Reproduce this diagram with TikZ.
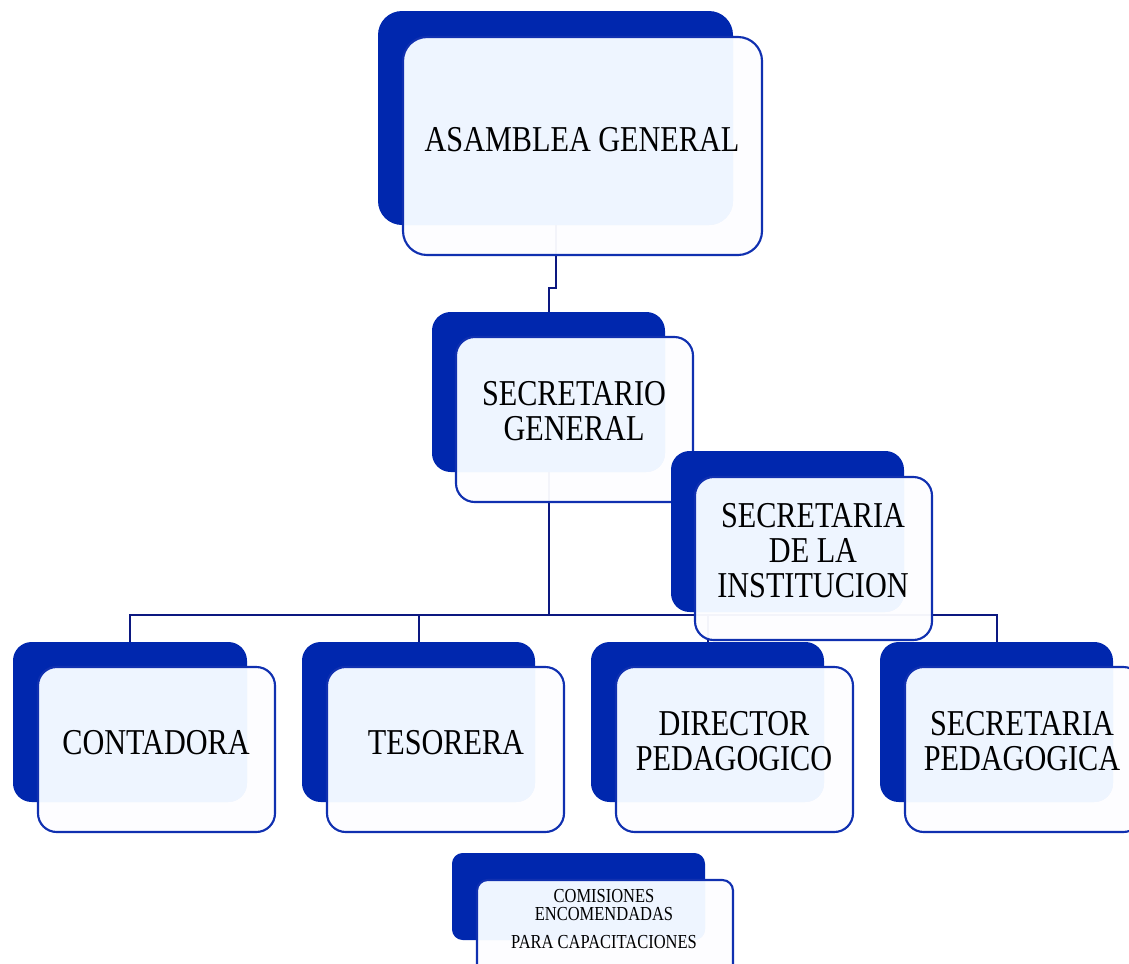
\documentclass[tikz,border=0pt]{standalone}
\usepackage{fontspec}
\setmainfont{Liberation Serif}
\newfontfamily\tallserif[FakeStretch=0.83]{Liberation Serif}
\usetikzlibrary{fit}
\definecolor{backblue}{RGB}{0,39,174}
\definecolor{edgeblue}{RGB}{16,48,176}
\definecolor{linenavy}{RGB}{12,24,128}
\definecolor{frontwhite}{RGB}{253,253,255}
\definecolor{overlapblue}{RGB}{238,245,255}
\tikzset{
  backbox/.style={fill=backblue, draw=none, inner sep=0pt, outer sep=0pt, rounded corners=#1},
  backbox/.default=14pt,
  frontfill/.style={fill=frontwhite, fill opacity=0.96, draw=none, inner sep=0pt, outer sep=0pt, rounded corners=#1},
  frontfill/.default=14pt,
  frontedge/.style={draw=edgeblue, line width=1.6pt},
  conn/.style={draw=linenavy, line width=1.5pt},
  lbl/.style={font=\tallserif\fontsize{27.3}{26.25}\selectfont, align=center, inner sep=0pt, text=black},
  smalllbl/.style={font=\tallserif\fontsize{14.9}{13.5}\selectfont, align=center, inner sep=0pt, text=black}
}
\def\rad{14pt}
% #1 name, #2-#5 back box corners, #6-#9 front box corners
\newcommand{\orgbox}[9]{%
  \node[backbox=\rad, fit={(#2,#3) (#4,#5)}] (#1B) {};
  \node[frontfill=\rad, fit={(#6,#7) (#8,#9)}] (#1F) {};
  \begin{scope}
    \clip[rounded corners=\rad] (#1B.south west) rectangle (#1B.north east);
    \fill[overlapblue, rounded corners=\rad] (#1F.south west) rectangle (#1F.north east);
  \end{scope}
  \draw[frontedge, rounded corners=\rad] (#1F.south west) rectangle (#1F.north east);
}
\begin{document}
\begin{tikzpicture}[x=0.75pt, y=-0.75pt]
\useasboundingbox (0,0) rectangle (1129,964);
\clip (0,0) rectangle (1129,964);
% position anchors of the back boxes (connector ends)
\path node[inner sep=0pt, outer sep=0pt, fit={(378,11) (733,225)}] (aP) {}
      node[inner sep=0pt, outer sep=0pt, fit={(432,312) (665,472)}] (sP) {}
      node[inner sep=0pt, outer sep=0pt, fit={(13,642) (247,802)}] (cP) {}
      node[inner sep=0pt, outer sep=0pt, fit={(302,642) (535,802)}] (tP) {}
      node[inner sep=0pt, outer sep=0pt, fit={(591,642) (824,802)}] (dP) {}
      node[inner sep=0pt, outer sep=0pt, fit={(880,642) (1113,802)}] (pP) {};
\coordinate (bus) at (548.5,615);
% connectors (drawn first, behind boxes)
\draw[conn] (aP.south) -- ++(0,63) -| (sP.north);
\draw[conn] (sP.south) -- (bus);
\draw[conn] (cP.north) |- (bus) -| (pP.north);
\draw[conn] (tP.north) -- (tP.north |- bus);
\draw[conn] (dP.north) -- (dP.north |- bus);
% ASAMBLEA GENERAL
\def\rad{18pt}
\orgbox{a}{378}{11}{733}{225}{403}{37}{762}{255}
\node[lbl] (aL) at (582,140) {ASAMBLEA GENERAL};
\def\rad{14pt}
% SECRETARIO GENERAL
\orgbox{s}{432}{312}{665}{472}{456}{337}{693}{502}
\node[lbl] (sL) at (574,411) {SECRETARIO\\GENERAL};
% SECRETARIA DE LA INSTITUCION
\orgbox{i}{671}{451}{904}{612}{695}{477}{932}{640}
\node[lbl] (iL) at (813,551) {SECRETARIA\\DE LA\\INSTITUCION};
% CONTADORA
\orgbox{c}{13}{642}{247}{802}{38}{667}{275}{832}
\node[lbl] (cL) at (156,743) {CONTADORA};
% TESORERA
\orgbox{t}{302}{642}{535}{802}{327}{667}{564}{832}
\node[lbl] (tL) at (446,743) {TESORERA};
% DIRECTOR PEDAGOGICO
\orgbox{d}{591}{642}{824}{802}{616}{667}{853}{832}
\node[lbl] (dL) at (734,741) {DIRECTOR\\PEDAGOGICO};
% SECRETARIA PEDAGOGICA
\orgbox{p}{880}{642}{1113}{802}{905}{667}{1142}{832}
\node[lbl] (pL) at (1022,741) {SECRETARIA\\PEDAGOGICA};
% COMISIONES
\def\rad{8pt}
\orgbox{k}{452}{853}{705}{940}{477}{880}{733}{990}
\node[smalllbl] (kL) at (604,919) {COMISIONES\\ENCOMENDADAS\\[7.5pt]PARA CAPACITACIONES};
\end{tikzpicture}
\end{document}
